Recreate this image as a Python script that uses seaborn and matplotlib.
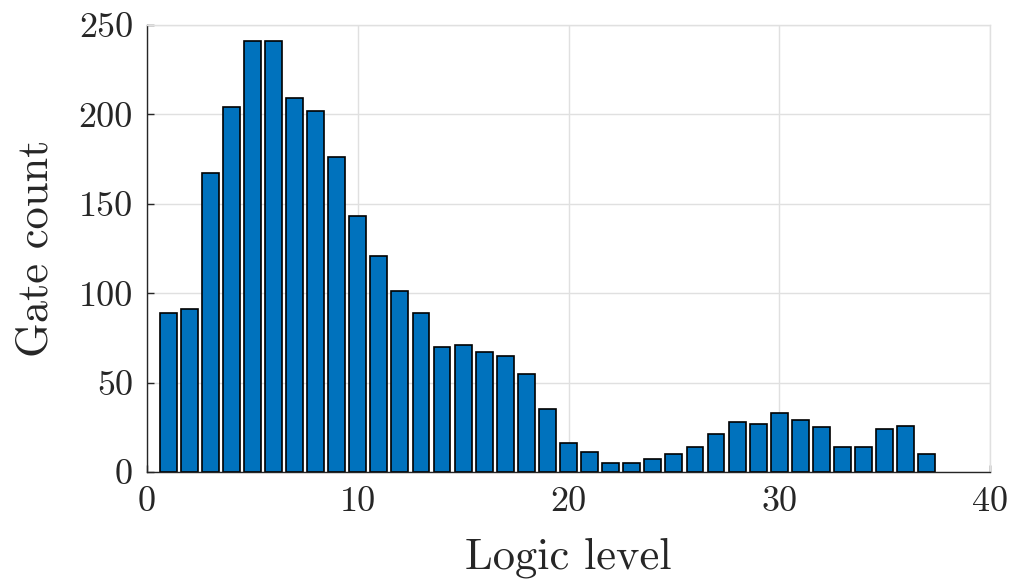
import matplotlib
matplotlib.use("Agg")
import matplotlib.pyplot as plt
import seaborn as sns
import pandas as pd

levels = list(range(1, 38))
gate_counts = [89, 91, 167, 204, 241, 241, 209, 202, 176, 143, 121, 101, 89, 70, 71,
               67, 65, 55, 35, 16, 11, 5, 5, 7, 10, 14, 21, 28, 27, 33, 29, 25, 14,
               14, 24, 26, 10]
x_ticks = [0, 10, 20, 30, 40]
y_ticks = [0, 50, 100, 150, 200, 250]

sns.set_theme(style="white")
plt.rcParams['font.family'] = ['cmr10', 'DejaVu Serif']
plt.rcParams['mathtext.fontset'] = 'cm'
plt.rcParams['axes.formatter.use_mathtext'] = True

df = pd.DataFrame({"level": levels, "count": gate_counts})

fig = plt.figure(figsize=(10.11, 5.84), dpi=100)
ax = fig.add_axes([147/1011, 1 - 472/584, (990-147)/1011, (472-25)/584])
sns.barplot(data=df, x="level", y="count", native_scale=True, width=0.8,
            color="#0072BD", saturation=1, edgecolor="black", linewidth=1.2, ax=ax)
ax.set_xlim(0, 40)
ax.set_ylim(0, 250)
ax.set_xticks(x_ticks)
ax.set_yticks(y_ticks)
ax.set_xticklabels([str(t) for t in x_ticks])
ax.set_yticklabels([str(t) for t in y_ticks])
ax.grid(True, color="#e0e0e0", linewidth=1.0)
ax.set_axisbelow(True)
for s in ["top", "right"]:
    ax.spines[s].set_visible(True)
    ax.spines[s].set_color("#e0e0e0")
    ax.spines[s].set_linewidth(1.0)
for s in ["left", "bottom"]:
    ax.spines[s].set_color("#262626")
    ax.spines[s].set_linewidth(1.0)
ax.tick_params(direction="in", length=5, width=1, color="#262626", labelsize=26,
               labelcolor="#262626", pad=10, left=True, bottom=True)
ax.set_xlabel("Logic level", fontsize=32, color="#262626", labelpad=14)
ax.set_ylabel("Gate count", fontsize=32, color="#262626", labelpad=16)
fig.savefig("out.png", dpi=100)
